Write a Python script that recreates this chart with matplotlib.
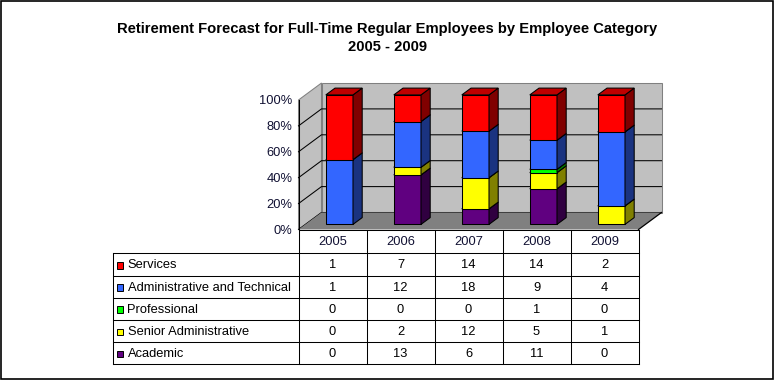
import matplotlib
matplotlib.use("Agg")
import matplotlib.pyplot as plt
from matplotlib.patches import Polygon, Rectangle
from matplotlib.ticker import FuncFormatter
import numpy as np

plt.rcParams['font.family'] = ['Liberation Sans', 'DejaVu Sans']

# ---------------- data ----------------
years = ["2005", "2006", "2007", "2008", "2009"]
# stacking order bottom -> top
series_names = ["Academic", "Senior Administrative", "Professional",
                "Administrative and Technical", "Services"]
academic = [0, 13, 6, 11, 0]
senior_admin = [0, 2, 12, 5, 1]
professional = [0, 0, 0, 1, 0]
admin_tech = [1, 12, 18, 9, 4]
services = [1, 7, 14, 14, 2]
series_values = [academic, senior_admin, professional, admin_tech, services]
series_colors = ["#600080", "#FFFF00", "#00FF00", "#3366FF", "#FF0000"]
y_ticks = [0, 20, 40, 60, 80, 100]
title = "Retirement Forecast for Full-Time Regular Employees by Employee Category\n2005 - 2009"

FS = 9.3

# ---------------- figure ----------------
W, H = 774, 381
fig = plt.figure(figsize=(W / 100, H / 100), dpi=100)
fig.patch.set_facecolor("white")

# pixel overlay axes for table / border
axp = fig.add_axes([0, 0, 1, 1])
axp.set_xlim(0, W)
axp.set_ylim(H, 0)
axp.axis("off")
axp.set_zorder(1)

# chart axes (front plane: x category units, y percent)
x_left, x_right = 298.5, 638.5
y_bot, y_top = 229.5, 100.0
ax = fig.add_axes([x_left / W, 1 - y_bot / H, (x_right - x_left) / W, (y_bot - y_top) / H])
ax.set_zorder(2)
ax.patch.set_alpha(0)
n = len(years)
ax.set_xlim(0, n)
ax.set_ylim(0, 100)
px_per_cat = (x_right - x_left) / n
px_per_pct = (y_bot - y_top) / 100
DX = 23 / px_per_cat
DY = 17 / px_per_pct

def P(x, y, z):
    return (x + z * DX, y + z * DY)

def poly(pts, fc, ec, lw=0.75, z=1):
    ax.add_patch(Polygon(pts, closed=True, facecolor=fc, edgecolor=ec,
                         linewidth=lw, clip_on=False, zorder=z, joinstyle="miter"))

wall = "#C0C0C0"
wall_edge = "#808080"
# side wall
poly([P(0, 0, 0), P(0, 100, 0), P(0, 100, 1), P(0, 0, 1)], wall, wall_edge, z=1)
# back wall
poly([P(0, 0, 1), P(0, 100, 1), P(n, 100, 1), P(n, 0, 1)], wall, wall_edge, z=1)
# gridlines
for v in y_ticks[:-1]:
    xs = [P(0, v, 0)[0], P(0, v, 1)[0], P(n, v, 1)[0]]
    ys = [P(0, v, 0)[1], P(0, v, 1)[1], P(n, v, 1)[1]]
    ax.plot(xs, ys, color="black", lw=0.75, clip_on=False, zorder=2)
# floor
poly([P(0, 0, 0), P(n, 0, 0), P(n, 0, 1), P(0, 0, 1)], "#808080", "none", z=3)
ax.plot([P(n, 0, 0)[0], P(n, 0, 1)[0]], [P(n, 0, 0)[1], P(n, 0, 1)[1]],
        color="black", lw=0.9, clip_on=False, zorder=3)

# bars
def shade(c, f):
    rgb = np.array(matplotlib.colors.to_rgb(c)) * f
    return tuple(rgb)

zf, zb = 0.3, 0.7
totals = np.sum(np.array(series_values), axis=0)
for i in range(n):
    x0, x1 = i + 0.3, i + 0.7
    base = 0.0
    for s, vals in enumerate(series_values):
        h = vals[i] / totals[i] * 100
        if h <= 0:
            continue
        y0, y1 = base, base + h
        c = series_colors[s]
        zz = 10 + s
        poly([P(x0, y0, zf), P(x1, y0, zf), P(x1, y1, zf), P(x0, y1, zf)], c, "black", 0.75, zz)
        poly([P(x1, y0, zf), P(x1, y0, zb), P(x1, y1, zb), P(x1, y1, zf)], shade(c, 0.5), "black", 0.75, zz)
        poly([P(x0, y1, zf), P(x1, y1, zf), P(x1, y1, zb), P(x0, y1, zb)], shade(c, 0.75), "black", 0.75, zz)
        base = y1

# y axis
for sp in ["top", "right", "bottom"]:
    ax.spines[sp].set_visible(False)
ax.spines["left"].set_color("black")
ax.spines["left"].set_linewidth(0.75)
ax.spines["left"].set_zorder(5)
ax.set_yticks(y_ticks)
ax.yaxis.set_major_formatter(FuncFormatter(lambda v, p: f"{v:.0f}%"))
ax.tick_params(axis="y", length=0, pad=4.5, labelsize=FS, labelcolor="#111133")
ax.set_xticks([])

# ---------------- table ----------------
tbl_left = 112.7
row_lines = [229.5, 253.3, 275.7, 297.7, 320.0, 342.3, 364.0]
col_lines = [x_left + k * px_per_cat for k in range(n + 1)]
lk = dict(color="black", lw=0.75)
# header row
axp.plot([x_left, x_right], [row_lines[0], row_lines[0]], **lk)
for cx in col_lines:
    axp.plot([cx, cx], [row_lines[0], row_lines[-1]], **lk)
for k, yr in enumerate(years):
    axp.text((col_lines[k] + col_lines[k + 1]) / 2, (row_lines[0] + row_lines[1]) / 2 + 0.5, yr,
             ha="center", va="center", fontsize=FS, color="#111133")
# body rows
for ry in row_lines[1:]:
    axp.plot([tbl_left, x_right], [ry, ry], **lk)
axp.plot([tbl_left, tbl_left], [row_lines[1], row_lines[-1]], **lk)
table_order = list(range(len(series_names)))[::-1]
for r, s in enumerate(table_order):
    yc = (row_lines[r + 1] + row_lines[r + 2]) / 2 + 1
    axp.add_patch(Rectangle((116.8, yc - 3.4), 6.4, 6.4, facecolor=series_colors[s],
                            edgecolor="black", lw=0.7))
    axp.text(127.5, yc, series_names[s], ha="left", va="center", fontsize=FS, color="black")
    for k in range(n):
        axp.text((col_lines[k] + col_lines[k + 1]) / 2, yc, str(series_values[s][k]),
                 ha="center", va="center", fontsize=FS, color="black")

# title
fig.text(387.5 / W, 1 - 38 / H, title, ha="center", va="center", fontsize=10.6,
         fontweight="bold", linespacing=1.35, color="black")

# border
axp.add_patch(Rectangle((0.75, 0.75), 771.75, 378.5, facecolor="none",
                        edgecolor="black", lw=1.2))

fig.savefig("out.png", dpi=100, facecolor="white")
